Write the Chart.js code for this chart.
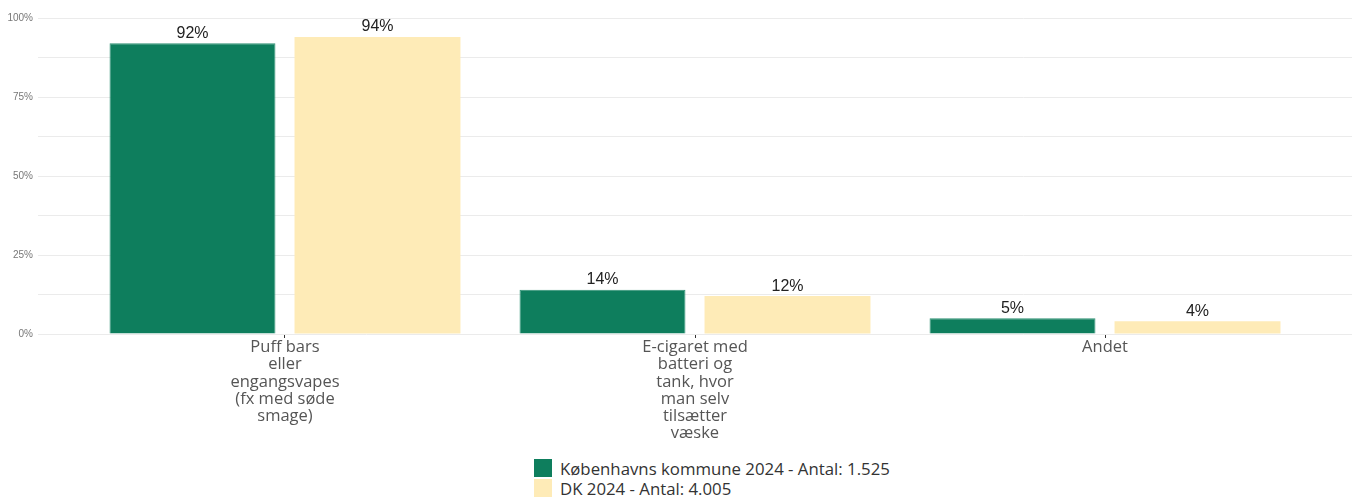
<!DOCTYPE html>
<html>
<head>
<meta charset="utf-8">
<script src="https://cdn.jsdelivr.net/npm/chart.js@4"></script>
<style>
  body { margin: 0; background: #fff; }
  #wrap { position: relative; width: 1352px; height: 497px; }
  #box { width: 1352px; height: 450px; }
  #legend { position: absolute; left: 534px; top: 458px; font: 16.8px "Open Sans"; color: #333; }
  .row { display: flex; align-items: center; height: 20px; }
  .sw { width: 18px; height: 18px; margin-right: 8px; flex: none; }
</style>
</head>
<body>
<div id="wrap">
  <div id="box"><canvas id="chart"></canvas></div>
  <div id="legend"></div>
</div>
<script>
const categories = [
  ['Puff bars', 'eller', 'engangsvapes', '(fx med søde', 'smage)'],
  ['E-cigaret med', 'batteri og', 'tank, hvor', 'man selv', 'tilsætter', 'væske'],
  ['Andet']
];
const kbh = [92, 14, 5];
const dk = [94, 12, 4];
const seriesNames = ['Københavns kommune 2024 - Antal: 1.525', 'DK 2024 - Antal: 4.005'];
const yTickLabels = [0, 25, 50, 75, 100];

const green = '#0e7e5d';
const yellow = '#feebb7';

// value labels above each bar
const valueLabels = {
  id: 'valueLabels',
  afterDatasetsDraw(chart) {
    const ctx = chart.ctx;
    ctx.save();
    ctx.font = '16px "Liberation Sans", Arial';
    ctx.fillStyle = '#222';
    ctx.textAlign = 'center';
    ctx.textBaseline = 'alphabetic';
    chart.data.datasets.forEach((ds, i) => {
      chart.getDatasetMeta(i).data.forEach((el, j) => {
        ctx.fillText(ds.data[j].y + '%', el.x, el.y - 5.5);
      });
    });
    ctx.restore();
  }
};

const ctx = document.getElementById('chart');
const chart = new Chart(ctx, {
  type: 'bar',
  data: {
    datasets: [
      {
        label: seriesNames[0],
        data: kbh.map((v, i) => ({ x: i, y: v })),
        backgroundColor: green,
        borderColor: '#2f9274',
        borderWidth: 1
      },
      {
        label: seriesNames[1],
        data: dk.map((v, i) => ({ x: i, y: v })),
        backgroundColor: yellow,
        borderWidth: 0
      }
    ]
  },
  options: {
    responsive: true,
    maintainAspectRatio: false,
    animation: false,
    categoryPercentage: 0.9024,
    barPercentage: 0.897,
    layout: { padding: { top: 18, left: 0, right: 0, bottom: 0 } },
    plugins: {
      legend: { display: false },
      tooltip: { enabled: false }
    },
    scales: {
      x: {
        type: 'linear',
        offset: false,
        min: -0.6024,
        max: 2.6024,
        afterFit: s => { s.height = 116; },
        border: { display: false },
        grid: {
          offset: false,
          drawOnChartArea: false,
          drawTicks: true,
          tickLength: 4,
          color: c => (c.tick && Number.isInteger(c.tick.value)) ? '#333' : 'rgba(0,0,0,0)'
        },
        ticks: {
          stepSize: 1,
          includeBounds: false,
          autoSkip: false,
          maxRotation: 0,
          padding: 1,
          color: '#555',
          font: { family: '"Open Sans"', size: 16.5, lineHeight: 1.04 },
          callback: v => Number.isInteger(v) && categories[v] ? categories[v] : ''
        }
      },
      y: {
        min: 0,
        max: 100,
        afterFit: s => { s.width = 38; },
        border: { display: false },
        grid: { color: '#ebebeb', drawTicks: false },
        ticks: {
          stepSize: 12.5,
          padding: 5,
          color: '#777',
          font: { family: '"Liberation Sans", Arial', size: 10 },
          callback: v => yTickLabels.includes(v) ? v + '%' : ''
        }
      }
    }
  },
  plugins: [valueLabels]
});

const legend = document.getElementById('legend');
chart.data.datasets.forEach(ds => {
  const row = document.createElement('div');
  row.className = 'row';
  const sw = document.createElement('span');
  sw.className = 'sw';
  sw.style.background = ds.backgroundColor;
  const t = document.createElement('span');
  t.textContent = ds.label;
  row.appendChild(sw);
  row.appendChild(t);
  legend.appendChild(row);
});
</script>
</body>
</html>
